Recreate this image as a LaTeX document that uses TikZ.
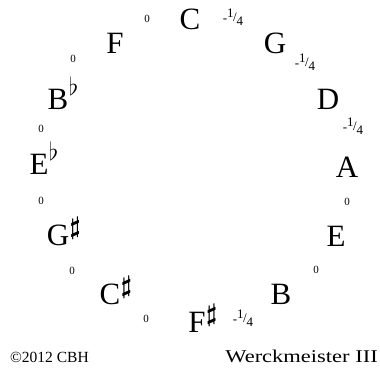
\documentclass[tikz,border=0pt]{standalone}
\usepackage{fontspec}
\usepackage{graphicx}
\setmainfont{Liberation Serif}
\newcommand{\qtr}{\raisebox{-0.05em}{-}\raisebox{0.35em}{1}\kern-0.05em/\raisebox{-0.3em}{4}}
\newcommand{\shp}{\rlap{\kern0.5pt\raisebox{11pt}{\fontsize{26}{26}\selectfont$\boldsymbol{\sharp}$}}}
\newcommand{\flt}{\rlap{\kern0.5pt\raisebox{14pt}{\fontsize{28}{28}\selectfont$\flat$}}}
\usepackage{amsmath}
\begin{document}
\begin{tikzpicture}[x=1pt,y=-1pt,
  note/.style={inner sep=0pt,anchor=base,font=\fontsize{31}{31}\selectfont},
  off/.style={inner sep=0pt,anchor=center,font=\fontsize{11}{11}\selectfont},
  qoff/.style={inner sep=0pt,anchor=center,font=\fontsize{13}{13}\selectfont}]
\useasboundingbox (0,0) rectangle (380,371);
% notes
\node[note] (c)  at (190,30)  {C};
\node[note] (g)  at (275,54)  {G};
\node[note] (d)  at (328,110) {D};
\node[note] (a)  at (347,178) {A};
\node[note] (e)  at (336,247) {E};
\node[note] (b)  at (281,305) {B};
\node[note] (fs) at (197,332) {F\shp};
\node[note] (cs) at (110,305) {C\shp};
\node[note] (gs) at (58,246)  {G\shp};
\node[note] (eb) at (39,175)  {E\flt};
\node[note] (bb) at (58,110)  {B\flt};
\node[note] (f)  at (115,54)  {F};
% offsets
\node[off]  (o1)  at (147,19)  {0};
\node[qoff] (o2)  at (233,17)  {\qtr};
\node[qoff] (o3)  at (305,62)  {\qtr};
\node[qoff] (o4)  at (353,126) {\qtr};
\node[off]  (o5)  at (347,202) {0};
\node[off]  (o6)  at (316,270) {0};
\node[qoff] (o7)  at (243,318) {\qtr};
\node[off]  (o8)  at (146,319) {0};
\node[off]  (o9)  at (72,271)  {0};
\node[off]  (o10) at (41,201)  {0};
\node[off]  (o11) at (41,129)  {0};
\node[off]  (o12) at (73,59)   {0};
% captions
\node[inner sep=0pt,anchor=base west,font=\fontsize{15.5}{15.5}\selectfont] (copy) at (10,362) {©2012 CBH};
\node[inner sep=0pt,anchor=base east,font=\fontsize{18}{18}\selectfont] (title) at (378,362) {\scalebox{1.25}[1]{Werckmeister III}};
\end{tikzpicture}
\end{document}
